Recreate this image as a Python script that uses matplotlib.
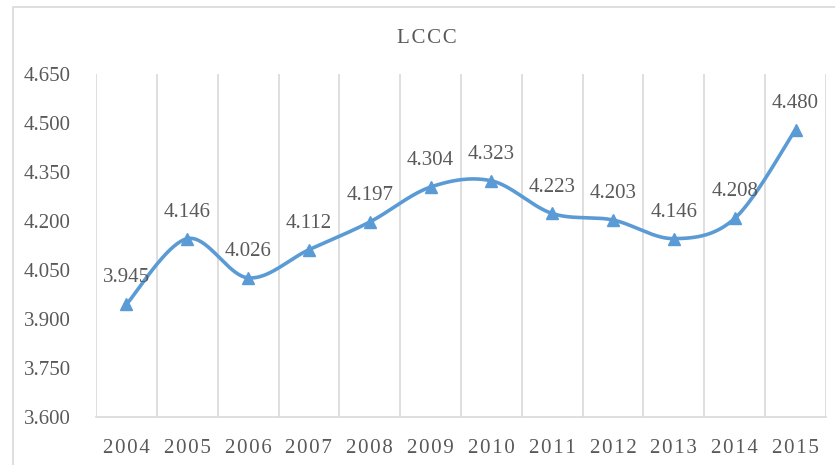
import numpy as np
import matplotlib.pyplot as plt
from matplotlib.patches import Rectangle

# ---- data ----
years = ["2004", "2005", "2006", "2007", "2008", "2009",
         "2010", "2011", "2012", "2013", "2014", "2015"]
lccc = [3.945, 4.146, 4.026, 4.112, 4.197, 4.304,
        4.323, 4.223, 4.203, 4.146, 4.208, 4.480]
yticks = [3.600, 3.750, 3.900, 4.050, 4.200, 4.350, 4.500, 4.650]

plt.rcParams['font.family'] = ['Liberation Serif', 'DejaVu Serif']
txt_col = '#595959'
line_col = '#5b9bd5'
grid_col = '#d9d9d9'


def spaced(s):
    # small letter spacing like the original
    return "\u200a".join(s)


def smooth_curve(x, y, n=40):
    # bezier smoothing similar to Excel "smoothed line"
    x = np.asarray(x, float)
    y = np.asarray(y, float)
    px = np.concatenate([[x[0]], x, [x[-1]]])
    py = np.concatenate([[y[0]], y, [y[-1]]])
    xs, ys = [], []
    t = np.linspace(0, 1, n)
    for i in range(1, len(x)):
        p0 = np.array([px[i], py[i]])
        p3 = np.array([px[i + 1], py[i + 1]])
        c1 = p0 + (np.array([px[i + 1], py[i + 1]]) - np.array([px[i - 1], py[i - 1]])) / 6
        c2 = p3 - (np.array([px[i + 2], py[i + 2]]) - np.array([px[i], py[i]])) / 6
        b = ((1 - t) ** 3)[:, None] * p0 + (3 * (1 - t) ** 2 * t)[:, None] * c1 \
            + (3 * (1 - t) * t ** 2)[:, None] * c2 + (t ** 3)[:, None] * p3
        xs.append(b[:, 0])
        ys.append(b[:, 1])
    return np.concatenate(xs), np.concatenate(ys)


fig = plt.figure(figsize=(8.35, 4.65), dpi=100)
fig.patches.append(Rectangle((13 / 835, -0.05), 1.2, 1 - 7 / 465 + 0.05,
                             transform=fig.transFigure, fill=False,
                             edgecolor=grid_col, linewidth=1.2))

ax = fig.add_axes([96 / 835, 1 - 417 / 465, (826 - 96) / 835, (417 - 74) / 465])
x = np.arange(len(years))

# category gridlines
for b in np.arange(-0.5, len(years), 1.0):
    ax.axvline(b, color=grid_col, linewidth=1.2, zorder=0)

sx, sy = smooth_curve(x, lccc)
ax.plot(sx, sy, color=line_col, linewidth=2.6, zorder=3, solid_capstyle='round')
ax.plot(x, lccc, linestyle='none', marker='^', markersize=9,
        color=line_col, zorder=4)

for xi, v in zip(x, lccc):
    ax.annotate(f"{v:.3f}", (xi, v), xytext=(0, 19), textcoords='offset points',
                ha='center', va='center', fontsize=15, color=txt_col)

ax.set_xlim(-0.5, len(years) - 0.5)
ax.set_ylim(3.6, 4.65)
ax.set_xticks(x)
ax.set_xticklabels([spaced(y) for y in years])
ax.set_yticks(yticks)
ax.set_yticklabels([f"{v:.3f}" for v in yticks])
ax.tick_params(axis='both', length=0, labelsize=15, colors=txt_col)
ax.tick_params(axis='x', pad=16)
ax.tick_params(axis='y', pad=18)
for s in ['top', 'left', 'right']:
    ax.spines[s].set_visible(False)
ax.spines['bottom'].set_color(grid_col)
ax.spines['bottom'].set_linewidth(1.2)

fig.text(427 / 835, 1 - 38 / 465, spaced("LCCC"), ha='center', va='center',
         fontsize=15, color=txt_col)

fig.savefig("out.png", dpi=100)
